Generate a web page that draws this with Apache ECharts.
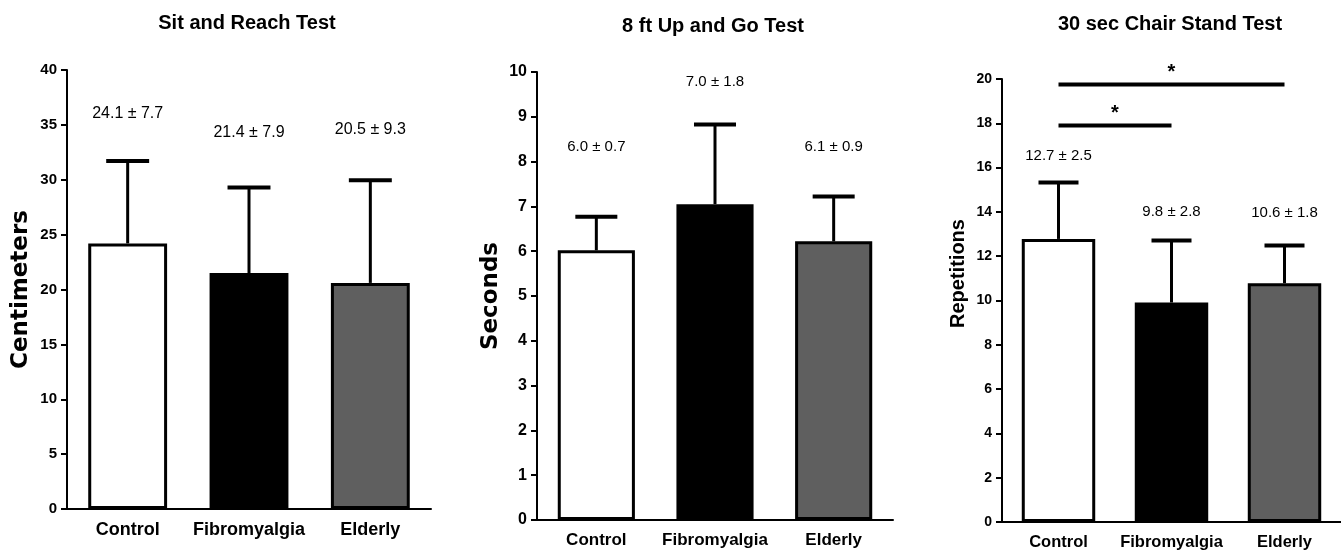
<!DOCTYPE html>
<html>
<head>
<meta charset="utf-8">
<script src="https://cdn.jsdelivr.net/npm/echarts@6/dist/echarts.min.js"></script>
<style>
html, body { margin: 0; padding: 0; background: #fff; }
#chart { width: 1341px; height: 554px; }
</style>
</head>
<body>
<div id="chart"></div>
<script>
var groups = ['Control', 'Fibromyalgia', 'Elderly'];

// Sit and Reach Test (cm)
var reachMean = [24.2, 21.5, 20.6];
var reachTop = [31.7, 29.3, 29.95];
var reachText = ['24.1 ± 7.7', '21.4 ± 7.9', '20.5 ± 9.3'];
var reachAxis = [0, 40, 5]; // min, max, step

// 8 ft Up and Go Test (s)
var upMean = [6.02, 7.05, 6.22];
var upTop = [6.77, 8.83, 7.22];
var upText = ['6.0 ± 0.7', '7.0 ± 1.8', '6.1 ± 0.9'];
var upAxis = [0, 10, 1];

// 30 sec Chair Stand Test (reps)
var chairMean = [12.78, 9.91, 10.78];
var chairTop = [15.33, 12.71, 12.48];
var chairText = ['12.7 ± 2.5', '9.8 ± 2.8', '10.6 ± 1.8'];
var chairAxis = [0, 20, 2];

// significance brackets, chair stand
var sigPairs = [[0, 2], [0, 1]];
var sigLevel = [19.75, 17.9];
var sigMark = ['*', '*'];

var FONT = "'Liberation Sans', Arial, sans-serif";
var fills = ['#ffffff', '#000000', '#5f5f5f'];
var borders = [3, 0, 3];

// layout of each panel (pixels), plus where the mean ± sd text sits (axis units)
var panels = [
	{ title: 'Sit and Reach Test', name: 'Centimeters', left: 67, top: 70, width: 364, height: 439, titleX: 247, titleY: 13,
	  nameFont: 'DejaVu Sans', nameSize: 23, namePad: 0, tickSize: 15, catSize: 18, valSize: 16, textAt: [36.0, 34.3, 34.6] },
	{ title: '8 ft Up and Go Test', name: 'Seconds', left: 537, top: 72, width: 356, height: 448, titleX: 713, titleY: 16,
	  nameFont: 'DejaVu Sans', nameSize: 23, namePad: 0, tickSize: 16, catSize: 17, valSize: 15, textAt: [8.33, 9.78, 8.33] },
	{ title: '30 sec Chair Stand Test', name: 'Repetitions', left: 1002, top: 79, width: 339, height: 443, titleX: 1170, titleY: 14,
	  nameFont: 'Liberation Sans', nameSize: 20, namePad: 54, tickSize: 14, catSize: 16.5, valSize: 15, textAt: [16.52, 14.0, 13.95] }
];
var means = [reachMean, upMean, chairMean];
var tops = [reachTop, upTop, chairTop];
var texts = [reachText, upText, chairText];
var axes = [reachAxis, upAxis, chairAxis];

var myChart = echarts.init(document.getElementById('chart'));

var grids = [], xAxes = [], yAxes = [], titles = [], series = [];

panels.forEach(function (p, k) {
	grids.push({ left: p.left, top: p.top, width: p.width, height: p.height, containLabel: false });
	titles.push({
		text: p.title, left: p.titleX, top: p.titleY, textAlign: 'center', padding: 0,
		textStyle: { fontFamily: FONT, fontWeight: 'bold', fontSize: 20, color: '#000' }
	});
	xAxes.push({
		type: 'category', gridIndex: k, data: groups,
		axisLine: { lineStyle: { color: '#000', width: 2 } },
		axisTick: { alignWithLabel: true, length: 6, lineStyle: { color: '#000', width: 2 } },
		axisLabel: { interval: 0, color: '#000', fontFamily: FONT, fontWeight: 'bold', fontSize: p.catSize, margin: 12 },
		splitLine: { show: false }
	});
	yAxes.push({
		type: 'value', gridIndex: k, min: axes[k][0], max: axes[k][1], interval: axes[k][2],
		name: p.name, nameLocation: 'middle', nameGap: 34,
		nameTextStyle: { fontFamily: p.nameFont, fontWeight: 'bold', fontSize: p.nameSize, color: '#000', padding: [0, 0, 0, p.namePad] },
		axisLine: { show: true, lineStyle: { color: '#000', width: 2 } },
		axisTick: { show: true, length: 6, lineStyle: { color: '#000', width: 2 } },
		axisLabel: { color: '#000', fontFamily: FONT, fontWeight: 'bold', fontSize: p.tickSize, margin: 10 },
		splitLine: { show: false }
	});

	series.push({
		type: 'bar', xAxisIndex: k, yAxisIndex: k, barWidth: '65%', z: 2,
		data: means[k].map(function (v, i) {
			return { value: v, itemStyle: { color: fills[i], borderColor: '#000', borderWidth: borders[i] } };
		})
	});

	series.push({
		type: 'custom', xAxisIndex: k, yAxisIndex: k, z: 3,
		data: means[k].map(function (v, i) { return [i, v, tops[k][i], p.textAt[i]]; }),
		renderItem: function (params, api) {
			var i = api.value(0);
			var base = api.coord([i, api.value(1)]);
			var top = api.coord([i, api.value(2)]);
			var lab = api.coord([i, api.value(3)]);
			var half = api.size([1, 0])[0] * 0.177;
			return {
				type: 'group',
				children: [
					{ type: 'line', shape: { x1: base[0], y1: base[1], x2: top[0], y2: top[1] }, style: { stroke: '#000', lineWidth: 3 } },
					{ type: 'line', shape: { x1: top[0] - half, y1: top[1], x2: top[0] + half, y2: top[1] }, style: { stroke: '#000', lineWidth: 4 } },
					{ type: 'text', x: lab[0], y: lab[1], style: {
						text: texts[k][params.dataIndex], fill: '#000', align: 'center', verticalAlign: 'middle',
						font: p.valSize + 'px ' + FONT
					} }
				]
			};
		}
	});
});

// significance brackets on the chair stand panel
series.push({
	type: 'custom', xAxisIndex: 2, yAxisIndex: 2, z: 4, clip: false,
	data: sigPairs.map(function (pr, j) { return [pr[0], pr[1], sigLevel[j]]; }),
	renderItem: function (params, api) {
		var a = api.coord([api.value(0), api.value(2)]);
		var b = api.coord([api.value(1), api.value(2)]);
		return {
			type: 'group',
			children: [
				{ type: 'line', shape: { x1: a[0], y1: a[1], x2: b[0], y2: b[1] }, style: { stroke: '#000', lineWidth: 4 } },
				{ type: 'text', x: (a[0] + b[0]) / 2, y: a[1] - 2, style: {
					text: sigMark[params.dataIndex], fill: '#000', align: 'center', verticalAlign: 'bottom',
					font: 'bold 20px ' + FONT
				} }
			]
		};
	}
});

option = {
	backgroundColor: '#fff',
	animation: false,
	title: titles,
	grid: grids,
	xAxis: xAxes,
	yAxis: yAxes,
	series: series
};

myChart.setOption(option);
window.addEventListener("resize", function () {
	myChart.resize();
});
</script>
</body>
</html>
